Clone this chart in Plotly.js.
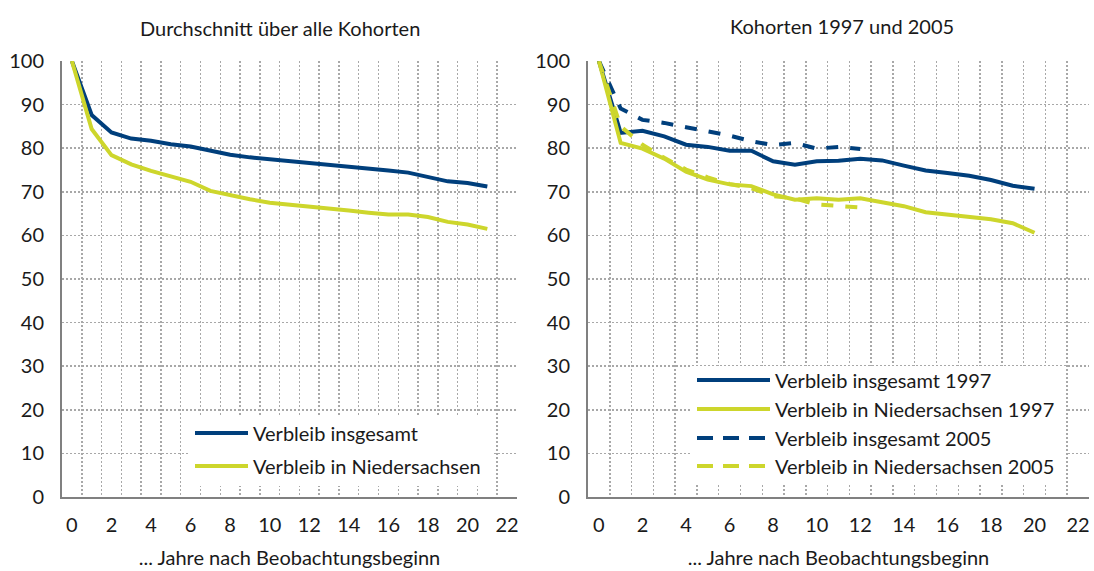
<!DOCTYPE html>
<html>
<head>
<meta charset="utf-8">
<script src="https://cdn.plot.ly/plotly-3.0.1.min.js"></script>
<style>html,body{margin:0;padding:0;background:#fff;}#chart{width:1094px;height:571px;}</style>
</head>
<body>
<div id="chart"></div>
<script>
// ---------- data ----------
const yearsAvg = [0,1,2,3,4,5,6,7,8,9,10,11,12,13,14,15,16,17,18,19,20,21];
const avgTotal = [100,87.6,83.6,82.2,81.7,80.9,80.4,79.4,78.5,77.9,77.5,77.1,76.6,76.1,75.7,75.3,74.9,74.4,73.3,72.4,72.0,71.2];
const avgNds   = [100,84.4,78.4,76.3,74.8,73.5,72.3,70.2,69.2,68.3,67.5,67.1,66.6,66.1,65.7,65.2,64.8,64.8,64.2,63.1,62.5,61.5];

const years1997 = [0,1,2,3,4,5,6,7,8,9,10,11,12,13,14,15,16,17,18,19,20];
const total1997 = [100,83.5,84.0,82.7,80.8,80.3,79.4,79.4,77.0,76.2,77.0,77.1,77.6,77.2,76.0,74.9,74.3,73.7,72.7,71.4,70.7];
const nds1997   = [100,81.2,79.9,77.6,74.6,72.8,71.7,71.3,69.4,68.2,68.5,68.2,68.5,67.7,66.7,65.3,64.8,64.4,63.7,62.8,60.6];

const years2005 = [0,1,2,3,4,5,6,7,8,9,10,11,12];
const total2005 = [100,89.1,86.5,85.8,84.8,83.9,82.9,81.6,80.7,81.2,79.9,80.3,79.8];
const nds2005   = [100,85.0,80.8,77.8,75.1,73.3,71.8,70.8,69.0,68.5,67.1,66.7,66.4];

const xTicks = [0,2,4,6,8,10,12,14,16,18,20,22];
const yTicks = [0,10,20,30,40,50,60,70,80,90,100];

const titleLeft  = 'Durchschnitt über alle Kohorten';
const titleRight = 'Kohorten 1997 und 2005';
const xTitle = '... Jahre nach Beobachtungsbeginn';
const namesLeft  = ['Verbleib insgesamt', 'Verbleib in Niedersachsen'];
const namesRight = ['Verbleib insgesamt 1997', 'Verbleib in Niedersachsen 1997',
                    'Verbleib insgesamt 2005', 'Verbleib in Niedersachsen 2005'];

// ---------- style ----------
const BLUE = '#003f7c';
const YEL  = '#cdd62c';
const FONT = 'Lato, "Noto Sans", sans-serif';
const FS = 20;
const TXT  = '#1a1a1a';
const W = 1094, H = 571;

function tr(x, y, name, color, dash, xa, ya) {
  return {x: x, y: y, name: name, type: 'scatter', mode: 'lines',
          line: {color: color, width: 4, dash: dash},
          xaxis: xa, yaxis: ya, showlegend: false, hoverinfo: 'x+y+name'};
}

const traces = [
  tr(yearsAvg, avgTotal, namesLeft[0], BLUE, 'solid', 'x', 'y'),
  tr(yearsAvg, avgNds,   namesLeft[1], YEL,  'solid', 'x', 'y'),
  tr(years1997, total1997, namesRight[0], BLUE, 'solid', 'x2', 'y2'),
  tr(years1997, nds1997,   namesRight[1], YEL,  'solid', 'x2', 'y2'),
  tr(years2005, total2005, namesRight[2], BLUE, 'dash', 'x2', 'y2'),
  tr(years2005, nds2005,   namesRight[3], YEL,  'dash', 'x2', 'y2')
];

function xax(dom) {
  return {domain: dom, range: [-0.5, 22.5], tickmode: 'array', tickvals: xTicks,
          showgrid: false, zeroline: false, showline: true, linecolor: '#808080', linewidth: 2,
          ticks: '', ticklabelstandoff: 9, automargin: false, fixedrange: true,
          tickfont: {family: FONT, size: FS, color: TXT},
          minor: {tick0: 0.5, dtick: 1, showgrid: true, gridcolor: '#a8a8a8', gridwidth: 1.5, griddash: '2px,2px', ticks: ''},
          title: {text: xTitle, font: {family: FONT, size: FS, color: TXT}, standoff: 16}};
}
function yax(dom, anchor) {
  return {domain: dom, range: [0, 100], tickmode: 'array', tickvals: yTicks, anchor: anchor,
          showgrid: true, gridcolor: '#a8a8a8', gridwidth: 1.5, griddash: '2px,2px',
          zeroline: false, showline: true, linecolor: '#808080', linewidth: 2,
          ticks: '', ticklabelstandoff: 12, automargin: false, fixedrange: true,
          tickfont: {family: FONT, size: FS, color: TXT}};
}

const yDom = [1 - 497 / H, 1 - 61 / H];
const layout = {
  width: W, height: H,
  margin: {l: 0, r: 0, t: 0, b: 0},
  paper_bgcolor: '#fff', plot_bgcolor: '#fff',
  showlegend: false,
  font: {family: FONT, color: TXT},
  xaxis: Object.assign(xax([62 / W, 517 / W]), {anchor: 'y'}),
  yaxis: yax(yDom, 'x'),
  xaxis2: Object.assign(xax([588 / W, 1089 / W]), {anchor: 'y2'}),
  yaxis2: yax(yDom, 'x2'),
  annotations: [],
  shapes: []
};

// panel titles
layout.annotations.push({text: titleLeft, xref: 'paper', yref: 'paper', x: 280 / W, y: 1 - 28 / H,
  showarrow: false, xanchor: 'center', yanchor: 'middle', font: {family: FONT, size: FS, color: TXT}});
layout.annotations.push({text: titleRight, xref: 'paper', yref: 'paper', x: 842 / W, y: 1 - 26 / H,
  showarrow: false, xanchor: 'center', yanchor: 'middle', font: {family: FONT, size: FS, color: TXT}});

// custom legends (built from the traces)
function legend(items, box, lineX0, lineX1, rowsY, dashPat) {
  layout.shapes.push({type: 'rect', xref: 'paper', yref: 'paper', layer: 'above',
    x0: box[0] / W, x1: box[1] / W, y0: 1 - box[3] / H, y1: 1 - box[2] / H,
    fillcolor: '#fff', line: {width: 0}});
  items.forEach((t, i) => {
    const yy = 1 - rowsY[i] / H;
    layout.shapes.push({type: 'line', xref: 'paper', yref: 'paper', layer: 'above',
      x0: lineX0 / W, x1: lineX1 / W, y0: yy, y1: yy,
      line: {color: t.line.color, width: 4, dash: t.line.dash === 'dash' ? dashPat : 'solid'}});
    layout.annotations.push({text: t.name, xref: 'paper', yref: 'paper', x: (lineX1 + 3) / W, y: yy,
      showarrow: false, xanchor: 'left', yanchor: 'middle', font: {family: FONT, size: FS, color: TXT}});
  });
}
legend(traces.slice(0, 2), [188, 492, 416, 486], 195, 248, [433, 466], 'solid');
legend(traces.slice(2, 6), [690, 1066, 366, 484], 697, 770, [380, 409, 438, 466], '16px,10px');

Plotly.newPlot('chart', traces, layout, {staticPlot: true, displayModeBar: false});
</script>
</body>
</html>
